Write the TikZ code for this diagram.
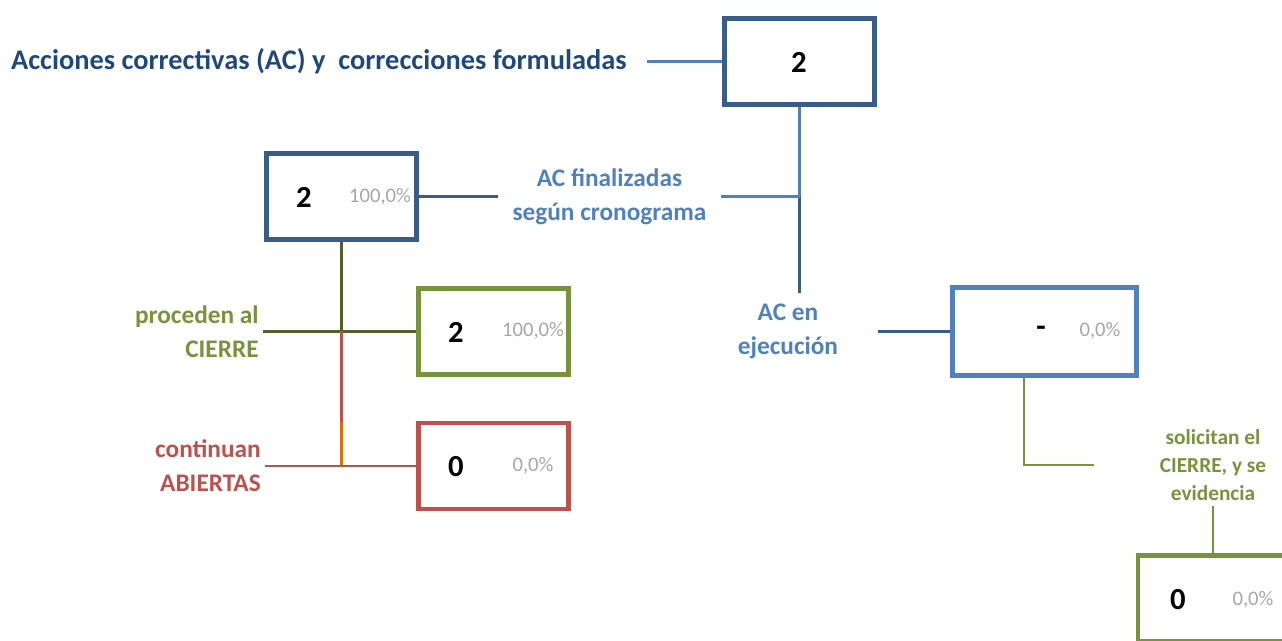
\documentclass[tikz,border=0pt]{standalone}
\usepackage{fontspec}
\setmainfont{Carlito}
\definecolor{dblue}{HTML}{385D8A}
\definecolor{lblue}{HTML}{4F81BD}
\definecolor{tblue}{HTML}{1F497D}
\definecolor{olive}{HTML}{77933C}
\definecolor{dolive}{HTML}{4F6228}
\definecolor{rojo}{HTML}{C0504D}
\definecolor{naranja}{HTML}{E36C09}
\definecolor{gris}{HTML}{A6A6A6}

\begin{document}
\begin{tikzpicture}[x=0.75pt, y=-0.75pt,
    box/.style={draw, line width=3.5pt, fill=white, minimum width=112.5pt, minimum height=64.5pt, inner sep=0pt},
    num/.style={font=\bfseries\fontsize{23}{26}\selectfont},
    pct/.style={text=gris, font=\fontsize{15.5}{18}\selectfont},
    lbl/.style={font=\bfseries\fontsize{19}{25.5}\selectfont},
    conn/.style={line width=2.2pt}]
    \useasboundingbox (0,0) rectangle (1282,641);
    \clip (0,0) rectangle (1282,641);
    \draw 
    (647,61.5)node(title)[anchor=east, inner xsep=15pt, text=tblue, font=\bfseries\fontsize{21.3}{24}\selectfont]{Acciones correctivas (AC) y\ \ correcciones formuladas}
    (799.5,61.5)node(top)[box, draw=dblue]{}
    (341.5,196.5)node(fin2)[box, draw=dblue]{}
    (493.5,331.5)node(cierre)[box, draw=olive]{}
    (493.5,466)node(abiertas)[box, draw=rojo]{}
    (1044.5,331.5)node(ejec2)[box, draw=lblue, minimum width=138pt, minimum height=66pt]{}
    (1213,598.5)node(evid)[box, draw=olive]{}
    (609.5,196.5)node(fin)[lbl, text=lblue, align=center, inner xsep=11pt]{AC finalizadas\\según cronograma}
    (263,331.5)node(proc)[lbl, text=olive, align=right, anchor=east, inner xsep=3pt]{proceden al\\CIERRE}
    (265,466)node(cont)[lbl, text=rojo, align=right, anchor=east, inner xsep=3pt]{continuan\\ABIERTAS}
    (788,331.5)node(ejec)[lbl, text=lblue, align=center, inner xsep=30pt, inner ysep=8pt]{AC en\\ejecución}
    (1213,465)node(sol)[lbl, text=olive, align=center, font=\bfseries\fontsize{16}{21}\selectfont, inner xsep=49pt, inner ysep=4pt]{solicitan el\\CIERRE, y se\\evidencia};
    %
    \draw
    (799,62)node(n0)[num]{2}
    (304,197)node(n1)[num]{2}
    (380,197)node(p1)[pct]{100,0\%}
    (456,332)node(n2)[num]{2}
    (533,331)node(p2)[pct]{100,0\%}
    (456,467)node(n3)[num]{0}
    (533,466)node(p3)[pct]{0,0\%}
    (1041,331)node(n4)[num]{-}
    (1100,331)node(p4)[pct]{0,0\%}
    (1178,600)node(n5)[num]{0}
    (1253,600)node(p5)[pct]{0,0\%};
    %
    \coordinate (junc) at (top.south |- fin.east);
    \coordinate (split) at (fin2.south |- cierre.west);
    \coordinate (naran) at (fin2.south |- 0,422);
    \draw [conn, lblue](title.east)--(top.west);
    \draw [conn, lblue](top.south)--(junc);
    \draw [conn, dblue](junc)--(junc |- ejec.north);
    \draw [conn, lblue](fin.east)--(junc);
    \draw [conn, dblue](fin2.east)--(fin.west);
    \draw [conn, dolive](fin2.south)--(split);
    \draw [conn, dolive](proc.east)--(cierre.west);
    \draw [conn, rojo](split)--(naran);
    \draw [conn, naranja](naran)--(naran |- abiertas.west);
    \draw [conn, rojo](cont.east)--(abiertas.west);
    \draw [conn, dblue](ejec.east)--(ejec2.west);
    \draw [conn, olive]([xshift=-15.4pt]ejec2.south) |- (sol.west);
    \draw [conn, olive](sol.south)--(evid.north);
\end{tikzpicture}
\end{document}
